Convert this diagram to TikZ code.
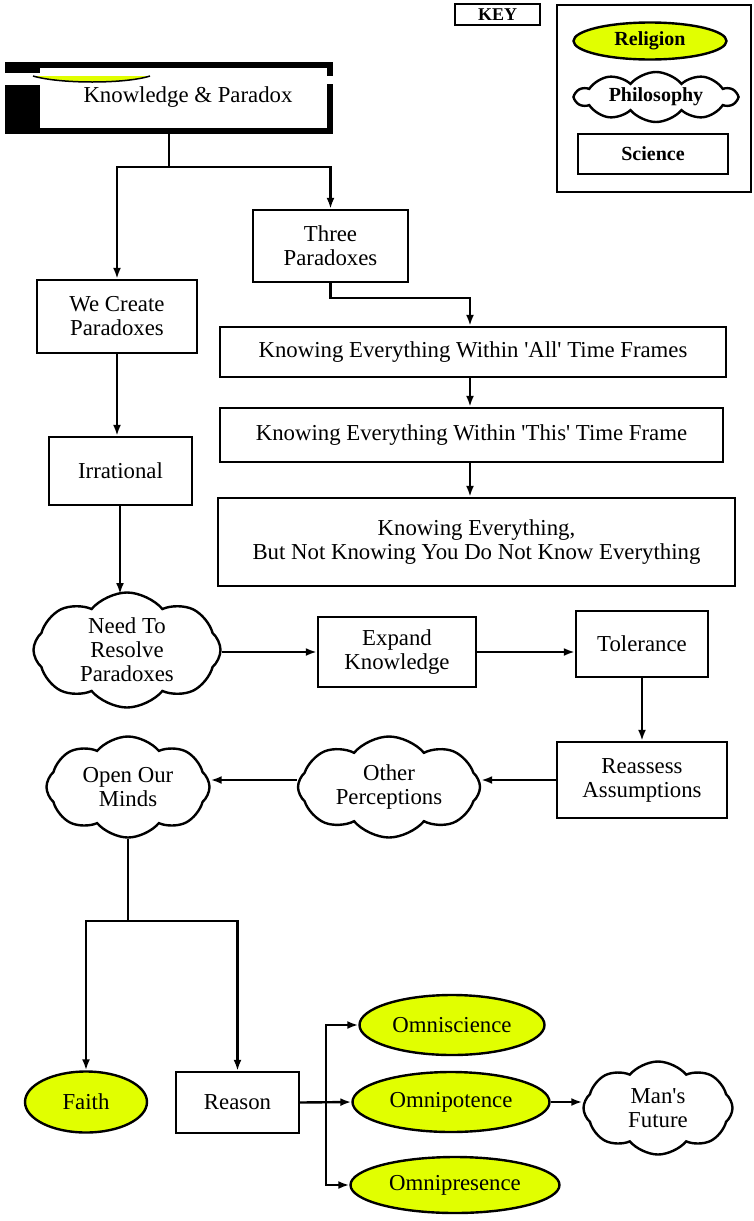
\documentclass[tikz,border=0pt]{standalone}
\usepackage{fontspec}
\setmainfont{Liberation Serif}
\usetikzlibrary{shapes.geometric,shapes.symbols,arrows.meta,calc}
\definecolor{relig}{RGB}{225,255,0}
\begin{document}
\begin{tikzpicture}[x=1pt,y=-1pt,
  every node/.style={font=\fontsize{22.8}{24}\selectfont, align=center, inner sep=0pt},
  sci/.style={draw, line width=2.4pt, rectangle, fill=white},
  rel/.style={draw, line width=2.4pt, ellipse, fill=relig},
  phil/.style={draw, line width=2.4pt, cloud, cloud puffs=8, cloud puff arc=100, cloud ignores aspect, fill=white},
  arr/.style={line width=2.4pt, -{Latex[length=11pt,width=8pt]}},
  conn/.style={line width=2.4pt},
  keyfont/.style={font=\fontsize{20}{22}\selectfont\bfseries}
]
\useasboundingbox[fill=white] (0,0) rectangle (753,1221);

% Knowledge & Paradox frame
\node[minimum width=328pt, minimum height=72pt] (kp) at (169,98) {};
\fill (5,62) rectangle (333,134);
\fill[white] (40,68) rectangle (327,128);
\fill[white] (5,73) rectangle (40,85);
\fill[white] (327,76) rectangle (333,84);
\fill[relig] (33,76) .. controls (60,84) and (125,84) .. (150,76) -- cycle;
\draw[line width=1.5pt] (33,76) .. controls (60,84) and (125,84) .. (150,76);
\node (kptext) at (188,97) {Knowledge \& Paradox};

% boxes
\node[sci, minimum width=155pt, minimum height=72pt] (threep) at (330.5,246) {Three\\Paradoxes};
\node[sci, minimum width=160pt, minimum height=73pt] (wecreate) at (117,316.5) {We Create\\Paradoxes};
\node[sci, minimum width=143pt, minimum height=68pt] (irr) at (120.5,471) {Irrational};
\node[phil, minimum width=187pt, minimum height=115pt] (need) at (127,650) {Need To\\Resolve\\Paradoxes};
\node[sci, minimum width=158pt, minimum height=70pt] (expand) at (397,652) {Expand\\Knowledge};
\node[sci, minimum width=132pt, minimum height=66pt] (toler) at (642,644) {Tolerance};
\node[sci, minimum width=170pt, minimum height=76pt] (reassess) at (642,780) {Reassess\\Assumptions};
\node[phil, minimum width=182pt, minimum height=101pt] (other) at (389,787) {Other\\Perceptions};
\node[phil, minimum width=163pt, minimum height=101pt] (open) at (128,787) {Open Our\\Minds};
\node[rel, minimum width=122pt, minimum height=61pt] (faith) at (86,1102) {Faith};
\node[sci, minimum width=123pt, minimum height=61pt] (reason) at (237.5,1102.5) {Reason};
\node[rel, minimum width=185pt, minimum height=60pt] (omnisci) at (452,1025) {Omniscience};
\node[rel, minimum width=197pt, minimum height=60pt] (omnipot) at (451,1102) {Omnipotence};
\node[rel, minimum width=209pt, minimum height=56pt] (omnipres) at (455,1185) {Omnipresence};
\node[phil, minimum width=149pt, minimum height=93pt] (future) at (658,1108) {Man\textquotesingle s\\Future};
\node[sci, minimum width=506pt, minimum height=50pt] (k1) at (473,352) {Knowing Everything Within \textquotesingle All\textquotesingle\ Time Frames};
\node[sci, minimum width=503pt, minimum height=54pt] (k2) at (471.5,435) {Knowing Everything Within \textquotesingle This\textquotesingle\ Time Frame};
\node[sci, minimum width=517pt, minimum height=88pt] (k3) at (476.5,542) {Knowing Everything,\\But Not Knowing You Do Not Know Everything};

% key
\node[sci, line width=1.4pt, minimum width=85pt, minimum height=21pt, font=\fontsize{18}{20}\selectfont\bfseries] (keylab) at (497.5,14.5) {KEY};
\node[draw, line width=1.4pt, minimum width=194pt, minimum height=187pt] (keyframe) at (654,98.5) {};
\node[rel, keyfont, minimum width=153pt, minimum height=37pt] (krel) at (650,41) {Religion};
\node[phil, keyfont, minimum width=161pt, minimum height=50pt, cloud puffs=10] (kphil) at (656,97) {Philosophy};
\node[sci, keyfont, minimum width=150pt, minimum height=40pt] (ksci) at (653,154) {Science};

% connectors
\coordinate (j1) at (169,167);
\draw[conn] (kp.south) -- (j1);
\draw[arr] (j1) -| (wecreate.north);
\draw[arr] (j1) -| (threep.north);
\coordinate (j2) at (470,298);
\draw[arr] (threep.south) |- (j2) -- (j2 |- k1.north);
\draw[arr] (k1.south -| j2) -- (k2.north -| j2);
\draw[arr] (k2.south -| j2) -- (k3.north -| j2);
\draw[arr] (wecreate.south) -- (wecreate.south |- irr.north);
\coordinate (j5) at (120,594);
\draw[arr] (irr.south -| j5) -- (j5);
\draw[arr] (need.east |- expand.west) -- (expand.west);
\draw[arr] (expand.east) -- (expand.east -| toler.west);
\draw[arr] (toler.south) -- (toler.south |- reassess.north);
\draw[arr] (reassess.west) -- (reassess.west -| other.east);
\draw[arr] (other.west |- reassess.west) -- (reassess.west -| open.east);
\coordinate (j3) at (128,921);
\draw[conn] (open.south) -- (j3);
\draw[arr] (j3) -| (faith.north);
\draw[arr] (j3) -| (reason.north);
\coordinate (j4) at (326,1102);
\draw[arr] (reason.east) -- (omnipot.west);
\draw[arr] (j4) |- (omnisci.west);
\draw[arr] (j4) |- (omnipres.west);
\draw[arr] (omnipot.east) -- (omnipot.east -| future.west);
\end{tikzpicture}
\end{document}
